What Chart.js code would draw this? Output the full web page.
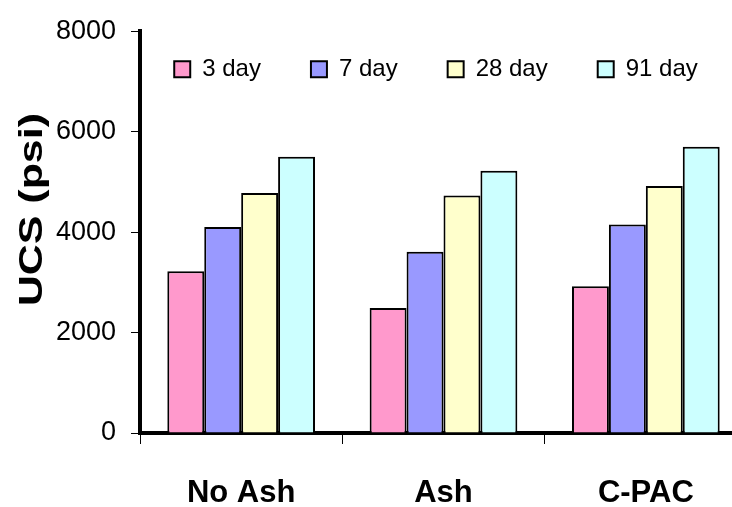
<!DOCTYPE html>
<html><head><meta charset="utf-8">
<script src="https://cdn.jsdelivr.net/npm/chart.js@4/dist/chart.umd.min.js"></script>
<style>
html,body{margin:0;padding:0;overflow:hidden;background:#fff;width:732px;height:507px}
#wrap{width:760px;height:507px}
</style></head>
<body><div id="wrap"><canvas id="c" width="760" height="507"></canvas></div>
<script>
const categories = ['No Ash', 'Ash', 'C-PAC'];
const seriesNames = ['3 day', '7 day', '28 day', '91 day'];
const day3 = [3220, 2490, 2920];
const day7 = [4100, 3610, 4150];
const day28 = [4780, 4730, 4920];
const day91 = [5500, 5220, 5700];
const yTicks = [0, 2000, 4000, 6000, 8000];
const yTickLabels = ['0', '2000', '4000', '6000', '8000'];
const yTitle = 'UCS (psi)';
const colors = ['#FF99CC', '#9999FF', '#FFFFCC', '#CCFFFF'];

const seriesValues = [day3, day7, day28, day91];
const FONT = '"Liberation Sans", Arial, sans-serif';

const yTitlePlugin = {
  id: 'yTitle',
  afterDraw(chart) {
    const ctx = chart.ctx, a = chart.chartArea;
    ctx.save();
    ctx.translate(33, a.top + (a.bottom - a.top) * 0.444);
    ctx.rotate(-Math.PI / 2);
    ctx.scale(1.3, 1);
    ctx.font = 'bold 33px ' + FONT;
    ctx.textAlign = 'center';
    ctx.textBaseline = 'middle';
    ctx.fillStyle = '#000';
    ctx.fillText(yTitle, 0, 0);
    ctx.restore();
  }
};
// legend sits inside the plot area: take no layout space, then placed in the plot
const legendInside = {
  id: 'legendInside',
  beforeLayout(chart) {
    const l = chart.legend;
    if (l && !l._inside) {
      const f = l.fit;
      l.fit = function () { f.call(this); this.height = 0; };
      l._inside = true;
    }
  },
  afterLayout(chart) {
    const l = chart.legend, a = chart.chartArea;
    if (!l) return;
    l.left = a.left - 57.5; l.right = a.right + 42.5;
    l.top = a.top - 24; l.bottom = l.top + 124;
  }
};

Chart.defaults.color = '#000';
Chart.defaults.font.family = FONT;

new Chart(document.getElementById('c'), {
  type: 'bar',
  data: {
    labels: categories,
    datasets: seriesNames.map((n, i) => ({
      label: n,
      data: seriesValues[i],
      backgroundColor: colors[i],
      borderColor: '#000',
      borderWidth: 2,
      categoryPercentage: 0.73,
      barPercentage: 1
    }))
  },
  options: {
    responsive: false,
    animation: false,
    devicePixelRatio: 1,
    layout: { padding: { left: 0, right: 13, top: 25, bottom: 0 } },
    plugins: {
      legend: {
        position: 'top',
        align: 'center',
        labels: {
          boxWidth: 16, boxHeight: 16, padding: 50,
          font: { size: 24, family: FONT }, color: '#000'
        }
      },
      tooltip: { enabled: false },
      title: { display: false }
    },
    scales: {
      x: {
        afterFit(s) { s.height = 74; },
        grid: { offset: true, drawOnChartArea: false, drawTicks: true, tickLength: 11, color: '#000', lineWidth: 1 },
        border: { display: true, color: '#000', width: 4 },
        ticks: { font: { size: 31, weight: 'bold', family: FONT }, color: '#000', padding: 31 }
      },
      y: {
        min: yTicks[0], max: yTicks[yTicks.length - 1],
        afterFit(s) { s.width = 140; },
        afterBuildTicks(s) { s.ticks = yTicks.map(v => ({ value: v })); },
        grid: { drawOnChartArea: false, drawTicks: true, tickLength: 9, color: '#000', lineWidth: 1 },
        border: { display: true, color: '#000', width: 4 },
        ticks: {
          font: { size: 27, family: FONT }, color: '#000', padding: 15,
          callback: (v) => yTickLabels[yTicks.indexOf(v)]
        },
        title: { display: false }
      }
    }
  },
  plugins: [yTitlePlugin, legendInside]
});
</script>
</body></html>
